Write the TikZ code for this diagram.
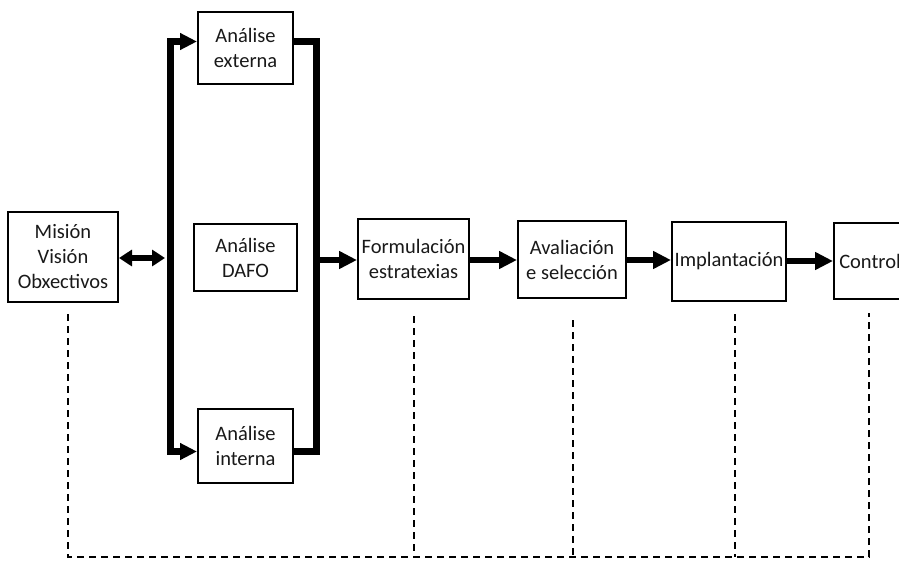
\documentclass[tikz,border=0pt]{standalone}
\usepackage{fontspec}
\setmainfont{Carlito}
\usetikzlibrary{arrows.meta}
\begin{document}
\begin{tikzpicture}[x=1pt,y=-1pt,
  box/.style={draw, line width=2pt, align=center, inner sep=0pt, text=black!90, font=\fontsize{20.5}{25}\selectfont},
  flowarrow/.style={line width=6.5pt, -{Triangle[length=18pt,width=17pt]}},
  busline/.style={line width=7pt, line join=miter},
  fb/.style={line width=2pt, dash pattern=on 7pt off 5pt}]
\clip (0,0) rectangle (899,560);
\fill[white] (0,0) rectangle (899,560);
% boxes
\node[box, minimum width=110pt, minimum height=90pt] (mis) at (63,257) {Misión\\Visión\\Obxectivos};
\node[box, minimum width=95pt, minimum height=72pt] (ext) at (245.5,48) {Análise\\externa};
\node[box, minimum width=103pt, minimum height=67pt] (dafo) at (245.5,257.5) {Análise\\DAFO};
\node[box, minimum width=95pt, minimum height=74pt] (int) at (245.5,446) {Análise\\interna};
\node[box, minimum width=111pt, minimum height=80pt] (form) at (413.5,259) {Formulación\\estratexias};
\node[box, minimum width=108pt, minimum height=77pt] (aval) at (572,259.5) {Avaliación\\e selección};
\node[box, minimum width=114pt, minimum height=79pt] (impl) at (729,261.5) {Implantación};
\node[box, minimum width=72pt, minimum height=76pt] (ctl) at (870,261) {Control};
% bus coordinates
\coordinate (lbt) at (170,41.5);
\coordinate (lbb) at (170,451.5);
\coordinate (rbt) at (316,41.5);
\coordinate (rbb) at (316,451.5);
\coordinate (rbm) at (316,260);
\coordinate (dm) at (165,258);
\coordinate (fl1) at (0,260);
\coordinate (fl2) at (0,261);
% left bus
\draw[busline, {Triangle[length=17pt,width=16pt]}-{Triangle[length=17pt,width=16pt]}]
  (ext.west |- lbt) -- (lbt) -- (lbb) -- (int.west |- lbb);
% right bus
\draw[busline] (ext.east |- rbt) -- (rbt) -- (rbb) -- (int.east |- rbb);
\draw[flowarrow] (rbm) -- (form.west |- rbm);
% double arrow
\draw[line width=6pt, {Triangle[length=13pt,width=16pt]}-{Triangle[length=13pt,width=16pt]}]
  (mis.east |- dm) -- (dm);
% flow
\draw[flowarrow] (form.east |- fl1) -- (aval.west |- fl1);
\draw[flowarrow] (aval.east |- fl1) -- (impl.west |- fl1);
\draw[flowarrow] (impl.east |- fl2) -- (ctl.west |- fl2);
% feedback dashed
\coordinate (bot) at (0,557);
\coordinate (m1) at ([xshift=5pt,yshift=-11pt]mis.south);
\coordinate (c1) at ([xshift=-1pt,yshift=-13pt]ctl.south);
\coordinate (f1) at ([yshift=-16pt]form.south);
\coordinate (a1) at ([xshift=1pt,yshift=-21pt]aval.south);
\coordinate (i1) at ([xshift=6pt,yshift=-12pt]impl.south);
\draw[fb] (m1) -- (m1 |- bot) -- (c1 |- bot) -- (c1);
\draw[fb] (f1) -- (f1 |- bot);
\draw[fb] (a1) -- (a1 |- bot);
\draw[fb] (i1) -- (i1 |- bot);
\end{tikzpicture}
\end{document}
